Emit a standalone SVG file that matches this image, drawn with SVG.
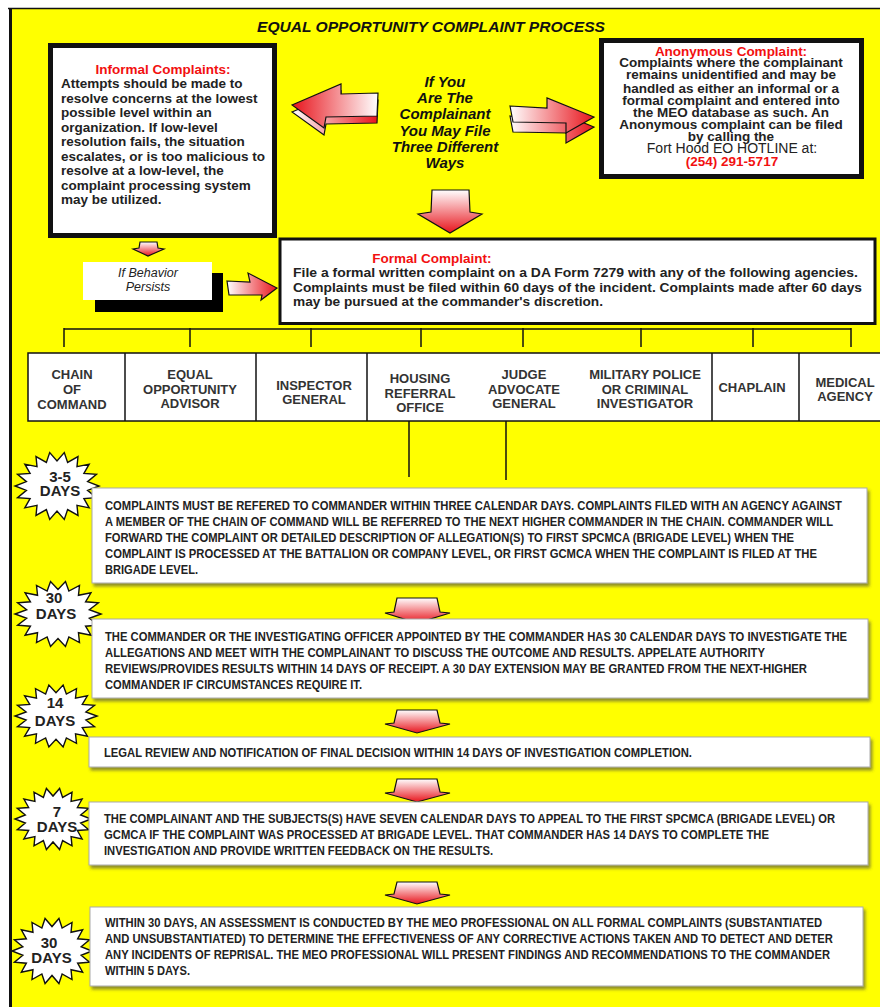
<svg xmlns="http://www.w3.org/2000/svg" xmlns:xlink="http://www.w3.org/1999/xlink" width="880" height="1007" viewBox="0 0 880 1007">
<style>
text{font-family:"Liberation Sans",Arial,sans-serif}
.b{font-weight:bold;font-size:13.5px;fill:#222}
.red{fill:#f21010}
.ttl{font-style:italic;font-weight:bold;font-size:15px;fill:#111}
.ctr{font-weight:bold;font-style:italic;font-size:15px;fill:#111;text-anchor:middle}
.ag{font-weight:bold;font-size:13px;fill:#333;text-anchor:middle}
.st{font-weight:bold;font-size:15px;fill:#222;text-anchor:middle}
.bx{font-weight:bold;font-size:13px;fill:#222}
.line{stroke:#111;stroke-width:1.5;fill:none}
.tbox{fill:#fff;stroke:#aaa;stroke-width:1;filter:url(#sh)}
.arr{stroke:#111;stroke-width:1.2;stroke-linejoin:miter}
.star{fill:#fff;stroke:#111;stroke-width:1.4;vector-effect:non-scaling-stroke}
</style>
<defs>
<linearGradient id="gRL" x1="0" y1="0" x2="1" y2="0"><stop offset="0" stop-color="#e8141c"/><stop offset="1" stop-color="#fff"/></linearGradient>
<linearGradient id="gLR" x1="0" y1="0" x2="1" y2="0"><stop offset="0" stop-color="#fff"/><stop offset="1" stop-color="#e8141c"/></linearGradient>
<linearGradient id="gTB" x1="0" y1="0" x2="0" y2="1"><stop offset="0" stop-color="#fff"/><stop offset="1" stop-color="#e8141c"/></linearGradient>
<filter id="sh" x="-5%" y="-20%" width="110%" height="150%"><feDropShadow dx="2" dy="3" stdDeviation="1.5" flood-color="#444" flood-opacity="0.6"/></filter>
<path id="star" class="star" d="M50,0 L36.44,6.42 L46.98,17.1 L32.04,18.5 L38.3,32.14 L23.78,28.34 L25,43.3 L12.65,34.77 L8.68,49.24 L0,37 L-8.68,49.24 L-12.65,34.77 L-25,43.3 L-23.78,28.34 L-38.3,32.14 L-32.04,18.5 L-46.98,17.1 L-36.44,6.42 L-50,0 L-36.44,-6.42 L-46.98,-17.1 L-32.04,-18.5 L-38.3,-32.14 L-23.78,-28.34 L-25,-43.3 L-12.65,-34.77 L-8.68,-49.24 L0,-37 L8.68,-49.24 L12.65,-34.77 L25,-43.3 L23.78,-28.34 L38.3,-32.14 L32.04,-18.5 L46.98,-17.1 L36.44,-6.42 Z"/>
</defs>

<rect x="0" y="0" width="880" height="1007" fill="#fff"/>
<rect x="10" y="8" width="870" height="999" fill="#ffff00"/>
<line x1="8" y1="8.5" x2="880" y2="8.5" stroke="#111" stroke-width="1.5"/>
<line x1="10.5" y1="8" x2="10.5" y2="1007" stroke="#111" stroke-width="3"/>

<text class="ttl" x="257" y="31.5" textLength="348" lengthAdjust="spacingAndGlyphs">EQUAL OPPORTUNITY COMPLAINT PROCESS</text>

<g id="informal">
<rect x="50.5" y="45.5" width="224" height="190" fill="#fff" stroke="#111" stroke-width="5"/>
<text class="b red" x="163" y="74" text-anchor="middle">Informal Complaints:</text>
<text class="b" x="61" y="88">Attempts should be made to</text>
<text class="b" x="61" y="102.5">resolve concerns at the lowest</text>
<text class="b" x="61" y="117">possible level within an</text>
<text class="b" x="61" y="131.5">organization. If low-level</text>
<text class="b" x="61" y="146">resolution fails, the situation</text>
<text class="b" x="61" y="160.5">escalates, or is too malicious to</text>
<text class="b" x="61" y="175">resolve at a low-level, the</text>
<text class="b" x="61" y="189.5">complaint processing system</text>
<text class="b" x="61" y="204">may be  utilized.</text>
</g>

<g id="center-text">
<text class="ctr" x="445" y="87">If You</text>
<text class="ctr" x="445" y="103">Are The</text>
<text class="ctr" x="445" y="119">Complainant</text>
<text class="ctr" x="445" y="136">You May File</text>
<text class="ctr" x="445" y="152">Three Different</text>
<text class="ctr" x="445" y="168">Ways</text>
</g>

<g id="anonymous">
<rect x="601.5" y="40.5" width="260" height="136" fill="#fff" stroke="#111" stroke-width="5"/>
<text class="b red" x="731" y="56" text-anchor="middle">Anonymous Complaint:</text>
<text class="b" x="731" y="67" text-anchor="middle">Complaints where the complainant</text>
<text class="b" x="731" y="79.3" text-anchor="middle">remains unidentified and may be</text>
<text class="b" x="731" y="92.6" text-anchor="middle">handled as either an informal or a</text>
<text class="b" x="731" y="105" text-anchor="middle">formal complaint and entered into</text>
<text class="b" x="731" y="117.3" text-anchor="middle">the MEO database as such. An</text>
<text class="b" x="731" y="129.4" text-anchor="middle">Anonymous complaint can be filed</text>
<text class="b" x="731" y="140.5" text-anchor="middle">by calling the</text>
<text x="732" y="153.3" text-anchor="middle" font-size="14" fill="#222">Fort Hood EO HOTLINE at:</text>
<text class="b red" x="732" y="165.7" text-anchor="middle">(254) 291-5717</text>
</g>

<g id="arrows">
<g id="arrow-left">
<polygon class="arr" fill="url(#gLR)" points="292,112 341,91 341,101 378,100 377,123 326,124 324,135"/>
<polygon class="arr" fill="url(#gRL)" points="292,105 341,84 341,94 378,93 377,116 326,117 324,128"/>
</g>
<g id="arrow-right">
<polygon class="arr" fill="url(#gLR)" points="510,116 547,118 547,108 594,127 566,143 566,133 513,132"/>
<polygon class="arr" fill="url(#gLR)" points="510,106 547,108 547,98 594,117 566,133 566,123 513,122"/>
</g>
<polygon id="arrow-down" class="arr" fill="url(#gTB)" points="432,190 469,190 470,212 482,214 450,233 418,214 431,212"/>
<polygon id="arrow-small-down" class="arr" fill="url(#gTB)" points="140,242 157,242 158,248 164,249 148,256 133,249 139,248"/>
<polygon id="arrow-formal" class="arr" fill="url(#gLR)" points="227,281 250,282 248,273 277,288 261,300 262,295 229,295"/>
</g>

<g id="behavior">
<rect x="95" y="273" width="128" height="39" fill="#000"/>
<rect x="83" y="262" width="129" height="38" fill="#fff"/>
<text x="148" y="277" text-anchor="middle" font-style="italic" font-size="12.5" fill="#222">If Behavior</text>
<text x="148" y="291" text-anchor="middle" font-style="italic" font-size="12.5" fill="#222">Persists</text>
</g>

<g id="formal">
<rect x="280" y="239" width="595" height="84.5" fill="#fff" stroke="#111" stroke-width="3"/>
<text class="b red" x="432" y="263" text-anchor="middle">Formal Complaint:</text>
<text class="b" x="293" y="277" textLength="565" lengthAdjust="spacingAndGlyphs">File a formal written complaint on a DA Form 7279 with any of the following agencies.</text>
<text class="b" x="293" y="292" textLength="569" lengthAdjust="spacingAndGlyphs">Complaints must be filed within 60 days of the incident. Complaints made after 60 days</text>
<text class="b" x="293" y="305.5" textLength="310" lengthAdjust="spacingAndGlyphs">may be pursued at the commander's discretion.</text>
</g>

<g id="connectors">
<line class="line" x1="64" y1="329" x2="851" y2="329"/>
<line class="line" x1="64" y1="328" x2="64" y2="347"/>
<line class="line" x1="190" y1="328" x2="190" y2="347"/>
<line class="line" x1="311" y1="328" x2="311" y2="347"/>
<line class="line" x1="421" y1="328" x2="421" y2="347"/>
<line class="line" x1="523" y1="328" x2="523" y2="347"/>
<line class="line" x1="641" y1="328" x2="641" y2="347"/>
<line class="line" x1="753" y1="328" x2="753" y2="347"/>
<line class="line" x1="851" y1="328" x2="851" y2="347"/>
<line class="line" x1="409" y1="416" x2="409" y2="477"/>
<line class="line" x1="506" y1="412" x2="506" y2="480"/>
</g>

<g id="agencies">
<rect x="28" y="353" width="860" height="68" fill="#fff" stroke="#111" stroke-width="1.5"/>
<line class="line" x1="125" y1="353" x2="125" y2="421"/>
<line class="line" x1="256" y1="353" x2="256" y2="421"/>
<line class="line" x1="367" y1="353" x2="367" y2="421"/>
<line class="line" x1="712" y1="353" x2="712" y2="421"/>
<line class="line" x1="799" y1="353" x2="799" y2="421"/>
</g>
<g id="agency-chain"><text class="ag" x="72" y="379">CHAIN</text><text class="ag" x="72" y="394">OF</text><text class="ag" x="72" y="409">COMMAND</text></g>
<g id="agency-eo"><text class="ag" x="190" y="379">EQUAL</text><text class="ag" x="190" y="393.5">OPPORTUNITY</text><text class="ag" x="190" y="408">ADVISOR</text></g>
<g id="agency-ig"><text class="ag" x="314" y="390">INSPECTOR</text><text class="ag" x="314" y="403.5">GENERAL</text></g>
<g id="agency-housing"><text class="ag" x="420" y="383">HOUSING</text><text class="ag" x="420" y="397.5">REFERRAL</text><text class="ag" x="420" y="412">OFFICE</text></g>
<g id="agency-jag"><text class="ag" x="524" y="379">JUDGE</text><text class="ag" x="524" y="393.5">ADVOCATE</text><text class="ag" x="524" y="408">GENERAL</text></g>
<g id="agency-mp"><text class="ag" x="645" y="379">MILITARY POLICE</text><text class="ag" x="645" y="393.5">OR CRIMINAL</text><text class="ag" x="645" y="408">INVESTIGATOR</text></g>
<g id="agency-chaplain"><text class="ag" x="752" y="392">CHAPLAIN</text></g>
<g id="agency-medical"><text class="ag" x="845" y="387">MEDICAL</text><text class="ag" x="845" y="401">AGENCY</text></g>

<g id="star-1"><use href="#star" transform="translate(57,486) scale(0.84,0.68)"/><text class="st" x="60" y="482">3-5</text><text class="st" x="60" y="496">DAYS</text></g>
<g id="star-2"><use href="#star" transform="translate(58,614) scale(0.86,0.66)"/><text class="st" x="54" y="603">30</text><text class="st" x="56" y="619">DAYS</text></g>
<g id="star-3"><use href="#star" transform="translate(56,716) scale(0.82,0.63)"/><text class="st" x="55" y="708">14</text><text class="st" x="55" y="726">DAYS</text></g>
<g id="star-4"><use href="#star" transform="translate(53,819) scale(0.76,0.62)"/><text class="st" x="57" y="817">7</text><text class="st" x="57" y="832">DAYS</text></g>
<g id="star-5"><use href="#star" transform="translate(52,951) scale(0.8,0.66)"/><text class="st" x="49" y="948">30</text><text class="st" x="51.5" y="963">DAYS</text></g>

<g id="step-1">
<rect class="tbox" x="92" y="488" width="775" height="95"/>
<text class="bx" x="105" y="510" textLength="737" lengthAdjust="spacingAndGlyphs">COMPLAINTS MUST BE REFERED TO COMMANDER WITHIN THREE CALENDAR DAYS.  COMPLAINTS FILED WITH AN AGENCY AGAINST</text>
<text class="bx" x="105" y="526" textLength="728" lengthAdjust="spacingAndGlyphs">A MEMBER OF THE CHAIN OF COMMAND WILL BE REFERRED TO THE NEXT HIGHER COMMANDER IN THE CHAIN. COMMANDER WILL</text>
<text class="bx" x="105" y="542" textLength="689" lengthAdjust="spacingAndGlyphs">FORWARD THE COMPLAINT OR DETAILED DESCRIPTION OF ALLEGATION(S) TO FIRST SPCMCA (BRIGADE LEVEL) WHEN THE</text>
<text class="bx" x="105" y="558" textLength="712" lengthAdjust="spacingAndGlyphs">COMPLAINT IS PROCESSED AT THE BATTALION OR COMPANY LEVEL, OR FIRST GCMCA WHEN THE COMPLAINT IS FILED AT THE</text>
<text class="bx" x="105" y="574" textLength="93" lengthAdjust="spacingAndGlyphs">BRIGADE LEVEL.</text>
</g>
<polygon class="arr" fill="url(#gTB)" points="397,598 437,598 440,612 450,613 417,623 385,613 394,612"/>

<g id="step-2">
<rect class="tbox" x="92" y="619" width="776" height="79"/>
<text class="bx" x="105" y="641" textLength="742" lengthAdjust="spacingAndGlyphs">THE COMMANDER OR THE INVESTIGATING OFFICER APPOINTED BY THE COMMANDER HAS 30 CALENDAR DAYS TO INVESTIGATE THE</text>
<text class="bx" x="105" y="657" textLength="660" lengthAdjust="spacingAndGlyphs">ALLEGATIONS AND MEET WITH THE COMPLAINANT TO DISCUSS THE OUTCOME AND RESULTS.  APPELATE AUTHORITY</text>
<text class="bx" x="105" y="673" textLength="702" lengthAdjust="spacingAndGlyphs">REVIEWS/PROVIDES RESULTS WITHIN 14 DAYS OF RECEIPT. A 30 DAY EXTENSION MAY BE GRANTED FROM THE NEXT-HIGHER</text>
<text class="bx" x="105" y="689" textLength="257" lengthAdjust="spacingAndGlyphs">COMMANDER IF CIRCUMSTANCES REQUIRE IT.</text>
</g>
<polygon class="arr" fill="url(#gTB)" points="397,710 437,710 440,723 450,724 417,733 385,724 394,723"/>

<g id="step-3">
<rect class="tbox" x="89" y="737" width="781" height="30"/>
<text class="bx" x="104" y="757" textLength="588" lengthAdjust="spacingAndGlyphs">LEGAL REVIEW AND NOTIFICATION OF FINAL DECISION WITHIN 14 DAYS OF INVESTIGATION COMPLETION.</text>
</g>
<polygon class="arr" fill="url(#gTB)" points="397,779 437,779 440,792 450,793 417,802 385,793 394,792"/>

<g id="step-4">
<rect class="tbox" x="89" y="802" width="779" height="63"/>
<text class="bx" x="104" y="823" textLength="731" lengthAdjust="spacingAndGlyphs">THE COMPLAINANT AND THE SUBJECTS(S) HAVE SEVEN CALENDAR DAYS TO APPEAL TO THE FIRST SPCMCA (BRIGADE LEVEL) OR</text>
<text class="bx" x="104" y="839" textLength="665" lengthAdjust="spacingAndGlyphs">GCMCA IF THE COMPLAINT WAS PROCESSED AT BRIGADE LEVEL.  THAT COMMANDER HAS 14 DAYS TO COMPLETE THE</text>
<text class="bx" x="104" y="855" textLength="389" lengthAdjust="spacingAndGlyphs">INVESTIGATION AND PROVIDE WRITTEN FEEDBACK ON THE RESULTS.</text>
</g>
<polygon class="arr" fill="url(#gTB)" points="397,882 437,882 440,894 450,895 417,904 385,895 394,894"/>

<g id="step-5">
<rect class="tbox" x="90" y="907" width="773" height="79"/>
<text class="bx" x="105" y="927" textLength="717" lengthAdjust="spacingAndGlyphs">WITHIN 30 DAYS, AN ASSESSMENT IS CONDUCTED BY THE MEO PROFESSIONAL ON ALL FORMAL COMPLAINTS (SUBSTANTIATED</text>
<text class="bx" x="105" y="943" textLength="728" lengthAdjust="spacingAndGlyphs">AND UNSUBSTANTIATED) TO DETERMINE THE EFFECTIVENESS OF ANY CORRECTIVE ACTIONS TAKEN AND TO DETECT AND DETER</text>
<text class="bx" x="105" y="959" textLength="725" lengthAdjust="spacingAndGlyphs">ANY INCIDENTS OF REPRISAL. THE MEO PROFESSIONAL WILL PRESENT FINDINGS AND RECOMMENDATIONS TO THE COMMANDER</text>
<text class="bx" x="105" y="975" textLength="85" lengthAdjust="spacingAndGlyphs">WITHIN 5 DAYS.</text>
</g>
</svg>
